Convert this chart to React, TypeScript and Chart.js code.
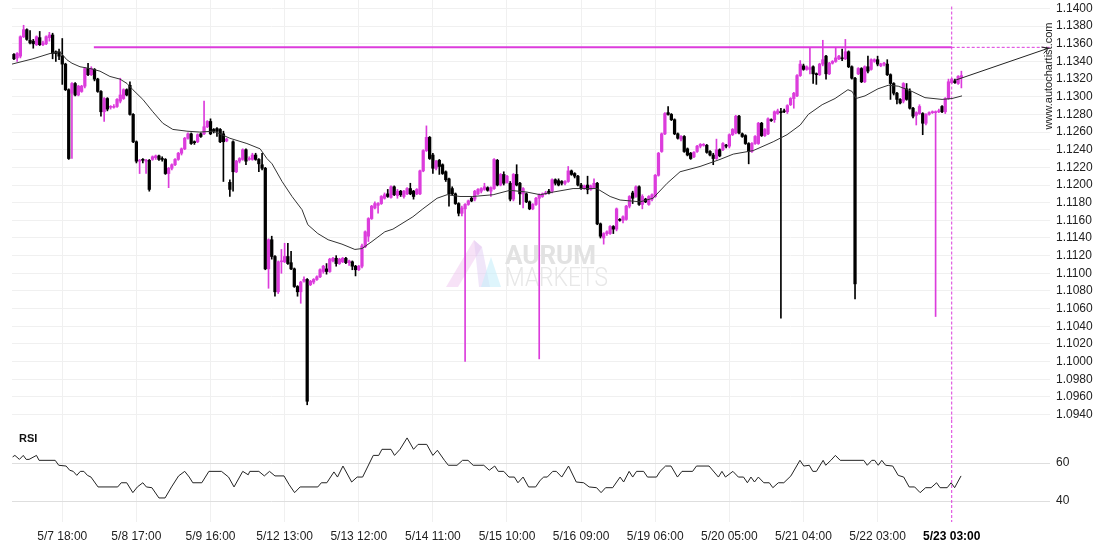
import React, { useEffect, useRef } from 'react';
import { Chart, registerables } from 'chart.js';

Chart.register(...registerables);

// ---------- DATA ----------
// hourly candles [open, high, low, close]
const candles: number[][] = [
  [1.1348,1.1349,1.1342,1.1343],[1.1344,1.1350,1.1340,1.1349],[1.1346,1.1369,1.1344,1.1368],[1.1368,1.1381,1.1367,1.1376],
  [1.1376,1.1377,1.1364,1.1365],[1.1364,1.1375,1.1360,1.1361],[1.1363,1.1365,1.1355,1.1360],[1.1359,1.1369,1.1358,1.1368],
  [1.1367,1.1374,1.1358,1.1359],[1.1359,1.1363,1.1358,1.1361],[1.1360,1.1369,1.1359,1.1368],[1.1367,1.1373,1.1363,1.1370],
  [1.1370,1.1372,1.1343,1.1349],[1.1351,1.1352,1.1340,1.1349],[1.1351,1.1354,1.1342,1.1346],[1.1346,1.1366,1.1314,1.1337],
  [1.1337,1.1338,1.1307,1.1308],[1.1308,1.1309,1.1229,1.1230],[1.1304,1.1316,1.1230,1.1315],[1.1315,1.1316,1.1301,1.1302],
  [1.1302,1.1313,1.1301,1.1312],[1.1306,1.1313,1.1305,1.1312],[1.1312,1.1333,1.1310,1.1332],[1.1332,1.1338,1.1324,1.1325],
  [1.1325,1.1334,1.1324,1.1332],[1.1331,1.1332,1.1318,1.1320],[1.1320,1.1321,1.1305,1.1306],[1.1306,1.1307,1.1278,1.1283],
  [1.1283,1.1299,1.1272,1.1298],[1.1298,1.1299,1.1284,1.1286],[1.1288,1.1290,1.1286,1.1289],[1.1288,1.1291,1.1287,1.1289],
  [1.1289,1.1298,1.1288,1.1297],[1.1295,1.1321,1.1293,1.1302],[1.1298,1.1309,1.1297,1.1308],[1.1308,1.1309,1.1301,1.1302],
  [1.1313,1.1317,1.1279,1.1280],[1.1280,1.1281,1.1248,1.1249],[1.1249,1.1250,1.1225,1.1227],[1.1227,1.1229,1.1213,1.1228],
  [1.1229,1.1230,1.1225,1.1228],[1.1227,1.1229,1.1213,1.1228],[1.1228,1.1229,1.1193,1.1195],[1.1229,1.1233,1.1228,1.1232],
  [1.1231,1.1234,1.1229,1.1233],[1.1233,1.1234,1.1228,1.1229],[1.1230,1.1232,1.1227,1.1229],[1.1229,1.1230,1.1212,1.1213],
  [1.1213,1.1220,1.1197,1.1219],[1.1219,1.1224,1.1217,1.1223],[1.1223,1.1230,1.1222,1.1229],[1.1229,1.1237,1.1228,1.1236],
  [1.1236,1.1242,1.1234,1.1241],[1.1241,1.1254,1.1240,1.1253],[1.1253,1.1259,1.1252,1.1258],[1.1258,1.1259,1.1246,1.1247],
  [1.1249,1.1250,1.1246,1.1248],[1.1249,1.1258,1.1248,1.1257],[1.1258,1.1259,1.1254,1.1255],[1.1258,1.1295,1.1257,1.1266],
  [1.1266,1.1273,1.1265,1.1272],[1.1272,1.1275,1.1257,1.1258],[1.1263,1.1264,1.1259,1.1261],[1.1264,1.1265,1.1255,1.1261],
  [1.1263,1.1264,1.1248,1.1249],[1.1258,1.1261,1.1204,1.1249],[1.1250,1.1253,1.1249,1.1252],[1.1203,1.1206,1.1187,1.1195],
  [1.1249,1.1250,1.1193,1.1215],[1.1215,1.1228,1.1214,1.1227],[1.1227,1.1231,1.1225,1.1230],[1.1229,1.1241,1.1228,1.1240],
  [1.1240,1.1241,1.1223,1.1227],[1.1229,1.1232,1.1228,1.1230],[1.1229,1.1236,1.1228,1.1234],[1.1234,1.1236,1.1228,1.1229],
  [1.1229,1.1230,1.1215,1.1224],[1.1223,1.1236,1.1217,1.1219],[1.1219,1.1220,1.1104,1.1105],[1.1105,1.1139,1.1083,1.1138],
  [1.1138,1.1142,1.1116,1.1119],[1.1119,1.1120,1.1074,1.1079],[1.1079,1.1114,1.1077,1.1113],[1.1113,1.1127,1.1100,1.1114],
  [1.1113,1.1134,1.1112,1.1119],[1.1119,1.1134,1.1110,1.1111],[1.1112,1.1125,1.1104,1.1105],[1.1105,1.1106,1.1084,1.1085],
  [1.1085,1.1086,1.1074,1.1079],[1.1079,1.1091,1.1066,1.1090],[1.1091,1.1096,1.1090,1.1093],[1.1093,1.1094,1.0951,1.0955],
  [1.1087,1.1092,1.1086,1.1091],[1.1090,1.1094,1.1088,1.1093],[1.1093,1.1097,1.1092,1.1096],[1.1096,1.1105,1.1095,1.1104],
  [1.1102,1.1109,1.1100,1.1108],[1.1105,1.1111,1.1099,1.1102],[1.1102,1.1117,1.1101,1.1116],[1.1114,1.1118,1.1113,1.1117],
  [1.1117,1.1120,1.1108,1.1111],[1.1111,1.1117,1.1110,1.1116],[1.1113,1.1118,1.1112,1.1117],[1.1117,1.1118,1.1111,1.1112],
  [1.1112,1.1115,1.1109,1.1114],[1.1113,1.1114,1.1104,1.1108],[1.1108,1.1109,1.1097,1.1104],[1.1104,1.1109,1.1103,1.1108],
  [1.1108,1.1133,1.1106,1.1131],[1.1130,1.1148,1.1129,1.1147],[1.1142,1.1163,1.1136,1.1162],[1.1162,1.1177,1.1161,1.1176],
  [1.1174,1.1181,1.1173,1.1179],[1.1177,1.1180,1.1168,1.1179],[1.1179,1.1188,1.1178,1.1187],[1.1185,1.1191,1.1184,1.1189],
  [1.1190,1.1195,1.1186,1.1187],[1.1186,1.1199,1.1185,1.1198],[1.1198,1.1199,1.1188,1.1189],[1.1188,1.1195,1.1185,1.1193],
  [1.1193,1.1194,1.1187,1.1189],[1.1187,1.1194,1.1185,1.1193],[1.1190,1.1197,1.1189,1.1196],[1.1196,1.1202,1.1189,1.1190],
  [1.1193,1.1194,1.1184,1.1187],[1.1190,1.1196,1.1189,1.1195],[1.1190,1.1217,1.1189,1.1216],[1.1216,1.1240,1.1215,1.1239],
  [1.1239,1.1267,1.1238,1.1254],[1.1254,1.1255,1.1229,1.1230],[1.1234,1.1236,1.1213,1.1219],[1.1219,1.1228,1.1217,1.1227],
  [1.1228,1.1229,1.1212,1.1221],[1.1223,1.1224,1.1212,1.1213],[1.1215,1.1216,1.1204,1.1206],[1.1207,1.1208,1.1176,1.1190],
  [1.1196,1.1198,1.1189,1.1190],[1.1190,1.1191,1.1178,1.1179],[1.1179,1.1180,1.1165,1.1168],[1.1168,1.1176,1.1165,1.1174],
  [1.1173,1.1179,1.1000,1.1178],[1.1178,1.1183,1.1177,1.1182],[1.1185,1.1186,1.1181,1.1182],[1.1184,1.1194,1.1182,1.1193],
  [1.1190,1.1196,1.1189,1.1195],[1.1193,1.1197,1.1191,1.1196],[1.1195,1.1202,1.1194,1.1198],[1.1197,1.1198,1.1193,1.1194],
  [1.1193,1.1198,1.1187,1.1197],[1.1196,1.1230,1.1195,1.1229],[1.1228,1.1229,1.1199,1.1200],[1.1200,1.1213,1.1199,1.1212],
  [1.1212,1.1215,1.1200,1.1202],[1.1203,1.1211,1.1202,1.1210],[1.1202,1.1204,1.1182,1.1184],[1.1184,1.1213,1.1182,1.1212],
  [1.1212,1.1223,1.1199,1.1200],[1.1202,1.1203,1.1178,1.1190],[1.1190,1.1197,1.1174,1.1196],[1.1190,1.1191,1.1180,1.1181],
  [1.1181,1.1182,1.1172,1.1173],[1.1173,1.1179,1.1172,1.1178],[1.1178,1.1186,1.1177,1.1185],[1.1185,1.1190,1.1003,1.1189],
  [1.1187,1.1191,1.1186,1.1190],[1.1190,1.1193,1.1189,1.1191],[1.1193,1.1195,1.1190,1.1191],[1.1193,1.1207,1.1191,1.1206],
  [1.1206,1.1207,1.1200,1.1202],[1.1205,1.1207,1.1199,1.1200],[1.1204,1.1205,1.1200,1.1202],[1.1202,1.1205,1.1200,1.1204],
  [1.1204,1.1221,1.1203,1.1216],[1.1216,1.1217,1.1211,1.1212],[1.1213,1.1214,1.1208,1.1210],[1.1210,1.1211,1.1199,1.1200],
  [1.1200,1.1202,1.1195,1.1196],[1.1196,1.1200,1.1195,1.1199],[1.1200,1.1210,1.1190,1.1195],[1.1195,1.1200,1.1194,1.1199],
  [1.1197,1.1207,1.1196,1.1202],[1.1202,1.1203,1.1155,1.1156],[1.1156,1.1157,1.1140,1.1142],[1.1140,1.1146,1.1133,1.1145],
  [1.1145,1.1148,1.1143,1.1147],[1.1145,1.1154,1.1144,1.1153],[1.1153,1.1154,1.1145,1.1150],[1.1150,1.1174,1.1148,1.1173],
  [1.1161,1.1162,1.1159,1.1160],[1.1160,1.1165,1.1157,1.1164],[1.1161,1.1177,1.1160,1.1176],[1.1176,1.1188,1.1174,1.1187],
  [1.1191,1.1193,1.1179,1.1185],[1.1187,1.1199,1.1186,1.1198],[1.1198,1.1199,1.1177,1.1178],[1.1178,1.1189,1.1173,1.1187],
  [1.1184,1.1185,1.1180,1.1181],[1.1178,1.1188,1.1177,1.1187],[1.1184,1.1190,1.1182,1.1189],[1.1187,1.1212,1.1186,1.1211],
  [1.1211,1.1237,1.1210,1.1236],[1.1238,1.1259,1.1237,1.1258],[1.1258,1.1282,1.1257,1.1281],[1.1282,1.1289,1.1279,1.1280],
  [1.1280,1.1281,1.1273,1.1274],[1.1274,1.1275,1.1257,1.1258],[1.1258,1.1259,1.1252,1.1253],[1.1252,1.1256,1.1250,1.1255],
  [1.1255,1.1256,1.1237,1.1238],[1.1241,1.1242,1.1233,1.1234],[1.1236,1.1237,1.1229,1.1230],[1.1232,1.1238,1.1231,1.1237],
  [1.1238,1.1245,1.1237,1.1244],[1.1244,1.1247,1.1242,1.1246],[1.1245,1.1247,1.1244,1.1246],[1.1245,1.1246,1.1236,1.1237],
  [1.1238,1.1239,1.1233,1.1234],[1.1234,1.1236,1.1223,1.1230],[1.1230,1.1252,1.1229,1.1240],[1.1240,1.1241,1.1232,1.1233],
  [1.1240,1.1248,1.1239,1.1247],[1.1245,1.1246,1.1242,1.1244],[1.1244,1.1258,1.1242,1.1257],[1.1257,1.1264,1.1256,1.1263],
  [1.1259,1.1279,1.1258,1.1278],[1.1278,1.1279,1.1258,1.1259],[1.1258,1.1259,1.1254,1.1255],[1.1256,1.1257,1.1246,1.1247],
  [1.1247,1.1248,1.1224,1.1238],[1.1238,1.1248,1.1237,1.1247],[1.1247,1.1256,1.1246,1.1255],[1.1247,1.1271,1.1246,1.1270],
  [1.1270,1.1271,1.1255,1.1256],[1.1256,1.1264,1.1255,1.1263],[1.1258,1.1276,1.1257,1.1275],[1.1274,1.1275,1.1272,1.1273],
  [1.1274,1.1284,1.1271,1.1283],[1.1281,1.1286,1.1280,1.1284],[1.1283,1.1287,1.1049,1.1282],[1.1284,1.1286,1.1282,1.1283],
  [1.1283,1.1291,1.1281,1.1290],[1.1291,1.1299,1.1290,1.1298],[1.1298,1.1305,1.1287,1.1304],[1.1301,1.1325,1.1300,1.1324],
  [1.1324,1.1341,1.1323,1.1337],[1.1335,1.1337,1.1330,1.1331],[1.1331,1.1335,1.1330,1.1334],[1.1331,1.1355,1.1326,1.1333],
  [1.1334,1.1335,1.1315,1.1326],[1.1326,1.1327,1.1314,1.1325],[1.1325,1.1338,1.1324,1.1337],[1.1337,1.1364,1.1335,1.1342],
  [1.1346,1.1347,1.1320,1.1326],[1.1326,1.1339,1.1325,1.1338],[1.1338,1.1341,1.1337,1.1340],[1.1340,1.1355,1.1339,1.1344],
  [1.1343,1.1347,1.1342,1.1346],[1.1344,1.1354,1.1341,1.1343],[1.1343,1.1365,1.1342,1.1351],[1.1351,1.1352,1.1333,1.1334],
  [1.1334,1.1335,1.1320,1.1321],[1.1321,1.1322,1.1071,1.1088],[1.1326,1.1333,1.1325,1.1332],[1.1332,1.1333,1.1316,1.1317],
  [1.1317,1.1335,1.1316,1.1334],[1.1334,1.1346,1.1327,1.1329],[1.1331,1.1343,1.1330,1.1342],[1.1340,1.1343,1.1339,1.1342],
  [1.1342,1.1346,1.1335,1.1337],[1.1335,1.1338,1.1334,1.1337],[1.1337,1.1339,1.1335,1.1338],[1.1337,1.1342,1.1324,1.1325],
  [1.1325,1.1326,1.1297,1.1315],[1.1315,1.1316,1.1302,1.1304],[1.1304,1.1305,1.1292,1.1297],[1.1297,1.1298,1.1292,1.1293],
  [1.1295,1.1316,1.1293,1.1315],[1.1309,1.1315,1.1296,1.1297],[1.1306,1.1309,1.1286,1.1287],[1.1287,1.1288,1.1276,1.1278],
  [1.1279,1.1283,1.1268,1.1282],[1.1281,1.1291,1.1280,1.1289],[1.1281,1.1282,1.1257,1.1270],[1.1270,1.1281,1.1268,1.1280],
  [1.1280,1.1283,1.1279,1.1282],[1.1282,1.1284,1.1281,1.1283],[1.1282,1.1284,1.1051,1.1283],[1.1283,1.1286,1.1282,1.1284],
  [1.1289,1.1290,1.1282,1.1283],[1.1283,1.1299,1.1281,1.1298],[1.1298,1.1320,1.1297,1.1317],[1.1316,1.1321,1.1315,1.1320],
  [1.1318,1.1320,1.1315,1.1316],[1.1315,1.1324,1.1314,1.1323],[1.1322,1.1329,1.1310,1.1324],
];

// moving average [bar index, value]
const maPoints: number[][] = [
  [-0.6,1.1337],[5.9,1.1343],[11.2,1.1349],[14.3,1.1351],[16.4,1.1342],[18,1.1338],[20.5,1.1334],[23.6,1.1332],
  [26.7,1.1329],[29.8,1.1323],[32.9,1.1320],[35.1,1.1315],[36.9,1.1308],[40,1.1297],[43.1,1.1283],[46.2,1.1270],
  [49.3,1.1263],[53.7,1.1261],[57.7,1.1260],[61.8,1.1261],[63.9,1.1258],[67,1.1253],[72.3,1.1247],[76.4,1.1241],
  [78.5,1.1230],[80.1,1.1224],[83.2,1.1204],[86.3,1.1187],[89.4,1.1172],[91.2,1.1155],[94.3,1.1145],[97.5,1.1138],
  [101.8,1.1133],[105.8,1.1127],[108,1.1128],[111.1,1.1136],[115.1,1.1147],[117.6,1.1150],[123.8,1.1164],[126.9,1.1173],
  [131.3,1.1185],[134.4,1.1189],[138.4,1.1187],[142.4,1.1187],[148.7,1.1189],[153.9,1.1194],[159.2,1.1192],[163.3,1.1189],
  [167.3,1.1192],[173.5,1.1196],[180.9,1.1196],[185,1.1187],[188.1,1.1183],[194.3,1.1181],[198.3,1.1185],[202.7,1.1202],
  [206.7,1.1215],[212.9,1.1221],[219.1,1.1229],[223.2,1.1235],[229.4,1.1239],[235.6,1.1249],[239.9,1.1257],[244,1.1268],
  [246.5,1.1280],[250.8,1.1291],[254.8,1.1298],[258.8,1.1308],[260.1,1.1306],[261.3,1.1298],[264.1,1.1301],[268.1,1.1309],
  [271.3,1.1313],[274.4,1.1312],[278.7,1.1306],[282.7,1.1299],[288,1.1297],[291.1,1.1298],[294.2,1.1301],
];

// RSI [bar index, value]
const rsiPoints: number[][] = [
  [-0.4,63.2],[0.3,64.0],[1.7,61.9],[2.9,64.0],[3.8,61.9],[4.7,61.9],[7,64.0],[7.8,61.4],[12.8,61.4],[13.9,58.8],
  [16.2,58.4],[17.3,56.2],[18.4,55.6],[19.5,53.5],[20.6,55.6],[21.7,55.6],[22.8,53.5],[23.9,52.6],[26.1,47.4],[32.2,47.4],
  [33.3,49.6],[35,49.6],[36.9,44.4],[38.3,47.4],[40,49.6],[41.1,47.4],[42.8,47.0],[45,41.6],[46.9,41.6],[48.9,47.4],
  [51.1,53.2],[53,55.6],[54.4,52.6],[55.5,49.6],[58.3,49.6],[60.5,55.6],[64.4,55.6],[66.6,52.6],[68.3,47.4],[71,55.6],
  [72.7,53.8],[73.2,55.6],[76,55.6],[77.7,53.2],[79.3,55.6],[81,53.2],[83.8,53.2],[85.4,48.6],[87.1,44.4],[88.8,47.4],
  [94.3,47.4],[95.4,49.6],[97.1,49.6],[99.3,55.3],[100.4,52.6],[102.1,58.4],[104.8,50.0],[106.5,52.6],[108.2,52.6],[111.5,64.0],
  [113.2,64.0],[114.2,67.2],[117,67.2],[118.1,64.0],[119.8,67.2],[122,73.2],[124,67.2],[125.4,69.8],[128.1,69.8],[130,64.0],
  [131.4,66.7],[133.6,61.4],[134.8,58.8],[137.5,58.8],[139.2,61.4],[140.9,61.4],[142.5,58.8],[145.8,58.8],[147.5,56.2],[149.2,58.4],
  [150.3,55.6],[152,55.6],[153.6,52.6],[155.3,52.6],[156.4,49.6],[158,52.6],[159.7,47.4],[161.9,47.4],[163.3,50.9],[164.4,52.6],
  [165.5,52.6],[167.2,55.6],[168.3,55.6],[170,52.6],[172.1,58.4],[174.5,50.0],[176.8,49.6],[178.5,47.4],[180.8,47.0],[182.2,44.4],
  [183.6,47.0],[185.8,47.0],[188.1,52.6],[189.2,50.0],[190.9,55.6],[192,52.6],[193.2,55.6],[195.4,55.6],[196.6,52.6],[199.4,52.6],
  [200.5,55.6],[202.2,58.4],[203.9,58.4],[205.9,52.6],[207.3,55.6],[210.6,55.6],[211.8,58.4],[215.7,58.4],[218.6,52.6],[219.7,55.6],
  [220.8,52.6],[223.1,55.6],[224.8,52.6],[226.4,52.6],[227.6,49.6],[228.7,52.6],[229.8,50.0],[231,52.6],[232.7,49.6],[234.4,49.6],
  [235.5,47.0],[237.2,49.6],[238.9,49.6],[241.1,53.2],[243.9,61.4],[245.1,58.4],[246.8,58.8],[247.9,55.6],[249,55.6],[251.1,61.4],
  [251.9,58.8],[253.5,61.4],[254.9,64.0],[256.4,61.4],[263.7,61.4],[264.8,58.8],[266.2,61.4],[267.1,61.4],[268.2,58.8],[269.3,61.4],
  [270.5,58.8],[272.7,58.4],[274.4,53.5],[276.1,52.6],[277.8,47.4],[279.5,47.4],[281.2,44.4],[282.9,47.0],[284.6,47.0],[286.3,49.6],
  [287.4,47.0],[289.6,47.0],[290.8,49.6],[291.9,47.0],[293.9,53.2],
];

const xTickIdx = [15, 38, 61, 84, 107, 130, 153, 176, 199, 222, 245, 268, 291];
const xTickLabels = ['5/7 18:00', '5/8 17:00', '5/9 16:00', '5/12 13:00', '5/13 12:00', '5/14 11:00',
  '5/15 10:00', '5/16 09:00', '5/19 06:00', '5/20 05:00', '5/21 04:00', '5/22 03:00', '5/23 03:00'];
const yTicks = [1.14, 1.138, 1.136, 1.134, 1.132, 1.13, 1.128, 1.126, 1.124, 1.122, 1.12, 1.118,
  1.116, 1.114, 1.112, 1.11, 1.108, 1.106, 1.104, 1.102, 1.1, 1.098, 1.096, 1.094];
const rsiTicks = [60, 40];

const resistanceLevel = 1.1356;
const resistanceStartIdx = 24.8;
const nowIdx = 291;
const trendIdx = [292.3, 321];
const trendVal = [1.1319, 1.1355];

// ---------- STYLE ----------
const MAGENTA = '#dc3cdc';
const X_MIN = -0.6;
const X_MAX = 321.5;
const Y_MAX = 1.140963;
const Y_MIN = 1.093376;
const RSI_MIN = 28.95;
const RSI_MAX = 82.63;
const FONT = '"Liberation Sans", Arial, sans-serif';

const fixY = (s: any) => { s.width = 60; s.paddingTop = 0; s.paddingBottom = 0; };
const fixX = (h: number) => (s: any) => { s.height = h; s.paddingLeft = 0; s.paddingRight = 0; };

const watermark = {
  id: 'watermark',
  beforeDatasetsDraw(chart: any) {
    const c = chart.ctx;
    c.save();
    c.fillStyle = 'rgba(238,190,238,0.45)';
    c.beginPath(); c.moveTo(446, 287); c.lineTo(458, 287); c.lineTo(482, 247); c.lineTo(474, 240); c.closePath(); c.fill();
    c.fillStyle = 'rgba(222,200,242,0.45)';
    c.beginPath(); c.moveTo(474, 240); c.lineTo(482, 247); c.lineTo(490, 287); c.lineTo(479, 287); c.closePath(); c.fill();
    c.fillStyle = 'rgba(200,238,250,0.6)';
    c.beginPath(); c.moveTo(481, 287); c.lineTo(491, 257); c.lineTo(501, 287); c.closePath(); c.fill();
    c.textBaseline = 'alphabetic';
    c.textAlign = 'left';
    c.fillStyle = '#e2e2e2';
    c.font = 'bold 26px Roboto';
    c.fillText('AURUM', 505, 264, 101);
    c.fillStyle = '#e7e7e7';
    c.font = '300 26px Roboto';
    c.fillText('MARKETS', 505, 286, 103);
    c.restore();
  },
};

const overlay = {
  id: 'overlay',
  afterDatasetsDraw(chart: any) {
    const { ctx, scales } = chart;
    const x1 = scales.x.getPixelForValue(trendIdx[0]);
    const y1 = scales.y.getPixelForValue(trendVal[0]);
    const x2 = scales.x.getPixelForValue(trendIdx[1]);
    const y2 = scales.y.getPixelForValue(trendVal[1]);
    const a = Math.atan2(y2 - y1, x2 - x1);
    ctx.save();
    ctx.strokeStyle = '#222';
    ctx.lineWidth = 1;
    ctx.beginPath();
    ctx.moveTo(x2 - 7 * Math.cos(a - 0.5), y2 - 7 * Math.sin(a - 0.5));
    ctx.lineTo(x2, y2);
    ctx.lineTo(x2 - 7 * Math.cos(a + 0.5), y2 - 7 * Math.sin(a + 0.5));
    ctx.stroke();
    ctx.translate(1049, 76);
    ctx.rotate(-Math.PI / 2);
    ctx.font = '11px ' + FONT;
    ctx.fillStyle = '#222';
    ctx.textAlign = 'center';
    ctx.textBaseline = 'middle';
    ctx.fillText('www.autochartist.com', 0, 0);
    ctx.restore();
  },
};

const rsiLabel = {
  id: 'rsiLabel',
  afterDraw(chart: any) {
    const c = chart.ctx;
    c.save();
    c.font = 'bold 11px ' + FONT;
    c.fillStyle = '#111';
    c.textBaseline = 'middle';
    c.fillText('RSI', 19, 19);
    c.restore();
  },
};

const gridColor = (ctx: any) => (ctx.tick && ctx.tick.value === nowIdx ? 'rgba(0,0,0,0)' : '#f0f0f0');

export default function App() {
  const mainRef = useRef<HTMLCanvasElement>(null);
  const rsiRef = useRef<HTMLCanvasElement>(null);

  useEffect(() => {
    Chart.defaults.font.family = FONT;
    const colors = candles.map(c => (c[3] >= c[0] ? MAGENTA : '#000'));
    const wicks = candles.map((c, i) => ({ x: i, y: [c[2], c[1]] }));
    const bodies = candles.map((c, i) => ({ x: i, y: [c[0], c[3]] }));
    const ma = maPoints.map(p => ({ x: p[0], y: p[1] }));
    const rsi = rsiPoints.map(p => ({ x: p[0], y: p[1] }));

    const main = new Chart(mainRef.current as HTMLCanvasElement, {
      type: 'bar',
      data: {
        datasets: [
          { type: 'line', data: [{ x: resistanceStartIdx, y: resistanceLevel }, { x: nowIdx, y: resistanceLevel }], borderColor: MAGENTA, borderWidth: 2, pointRadius: 0, order: 0 } as any,
          { type: 'line', data: [{ x: nowIdx, y: resistanceLevel }, { x: X_MAX, y: resistanceLevel }], borderColor: MAGENTA, borderWidth: 1, borderDash: [3, 2], pointRadius: 0, order: 0 } as any,
          { type: 'line', data: [{ x: nowIdx, y: 1.14022 }, { x: nowIdx, y: Y_MIN }], borderColor: MAGENTA, borderWidth: 1, borderDash: [3, 2], pointRadius: 0, order: 4 } as any,
          { type: 'line', data: trendIdx.map((x, i) => ({ x, y: trendVal[i] })), borderColor: '#222', borderWidth: 1, pointRadius: 0, order: 0 } as any,
          { type: 'line', data: ma, borderColor: '#333', borderWidth: 1, pointRadius: 0, order: 1 } as any,
          { type: 'bar', data: bodies, backgroundColor: colors, barThickness: 2.6, minBarLength: 1, grouped: false, borderWidth: 0, order: 2 } as any,
          { type: 'bar', data: wicks, backgroundColor: colors, barThickness: 1, grouped: false, borderWidth: 0, order: 3 } as any,
        ],
      },
      options: {
        animation: false,
        responsive: false,
        events: [],
        layout: { padding: { left: 12, right: 0, top: 0, bottom: 0 } },
        plugins: { legend: { display: false }, tooltip: { enabled: false } },
        scales: {
          x: {
            type: 'linear', min: X_MIN, max: X_MAX, offset: false,
            afterBuildTicks: (s: any) => { s.ticks = xTickIdx.map(v => ({ value: v })); },
            ticks: { display: false },
            grid: { color: gridColor, drawTicks: false, offset: false },
            border: { display: false },
            afterFit: fixX(0),
          },
          y: {
            position: 'right', min: Y_MIN, max: Y_MAX,
            afterBuildTicks: (s: any) => { s.ticks = yTicks.map(v => ({ value: v })); },
            ticks: { callback: (v: any) => Number(v).toFixed(4), color: '#222', font: { size: 12 }, padding: 6 },
            grid: { color: '#f0f0f0', drawTicks: false },
            border: { display: false },
            afterFit: fixY,
          },
        },
      } as any,
      plugins: [watermark, overlay],
    });

    const rsiChart = new Chart(rsiRef.current as HTMLCanvasElement, {
      type: 'line',
      data: {
        datasets: [
          { data: rsi, borderColor: '#222', borderWidth: 1, pointRadius: 0, order: 1 },
          { data: [{ x: nowIdx, y: RSI_MAX }, { x: nowIdx, y: RSI_MIN }], borderColor: MAGENTA, borderWidth: 1, borderDash: [3, 2], pointRadius: 0, order: 0 },
        ] as any,
      },
      options: {
        animation: false,
        responsive: false,
        events: [],
        layout: { padding: { left: 12, right: 0, top: 0, bottom: 0 } },
        plugins: { legend: { display: false }, tooltip: { enabled: false } },
        scales: {
          x: {
            type: 'linear', min: X_MIN, max: X_MAX, offset: false,
            afterBuildTicks: (s: any) => { s.ticks = xTickIdx.map(v => ({ value: v })); },
            ticks: {
              autoSkip: false, maxRotation: 0, padding: 7,
              color: (c: any) => (c.tick && c.tick.value === nowIdx ? '#000' : '#222'),
              font: (c: any) => ({ size: 12, weight: c.tick && c.tick.value === nowIdx ? 'bold' : 'normal' }),
              callback: (v: any) => { const k = xTickIdx.indexOf(Number(v)); return k >= 0 ? xTickLabels[k] : ''; },
            },
            grid: { color: gridColor, drawTicks: false },
            border: { display: false },
            afterFit: fixX(28),
          },
          y: {
            position: 'right', min: RSI_MIN, max: RSI_MAX,
            afterBuildTicks: (s: any) => { s.ticks = rsiTicks.map(v => ({ value: v })); },
            ticks: { color: '#222', font: { size: 12 }, padding: 6 },
            grid: { color: '#dedede', drawTicks: false },
            border: { display: false },
            afterFit: fixY,
          },
        },
      } as any,
      plugins: [rsiLabel],
    });

    return () => { main.destroy(); rsiChart.destroy(); };
  }, []);

  return (
    <div style={{ position: 'absolute', left: 0, top: 0, width: 1110, height: 550, background: '#fff' }}>
      <canvas ref={mainRef} width={1110} height={420} style={{ position: 'absolute', left: 0, top: 0 }} />
      <canvas ref={rsiRef} width={1110} height={130} style={{ position: 'absolute', left: 0, top: 420 }} />
    </div>
  );
}
